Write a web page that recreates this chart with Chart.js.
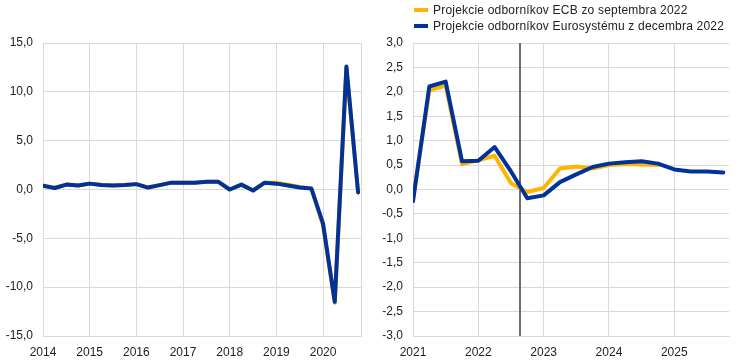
<!DOCTYPE html>
<html>
<head>
<meta charset="utf-8">
<script src="https://cdn.jsdelivr.net/npm/chart.js@4/dist/chart.umd.min.js"></script>
<style>
  body { margin: 0; background: #fff; font-family: "Liberation Sans", Arial, sans-serif; }
  #wrap { position: relative; width: 738px; height: 364px; }
  .panel { position: absolute; top: 0; height: 364px; }
  #leftPanel { left: 0; width: 370px; }
  #rightPanel { left: 370px; width: 368px; }
  .legend { position: absolute; left: 44px; top: 2px; font-size: 12px; letter-spacing: 0.2px; color: #222; }
  .legend div { height: 16px; line-height: 16px; white-space: nowrap; }
  .legend span { display: inline-block; width: 14px; height: 4px; margin-right: 5px; vertical-align: middle; position: relative; top: -1px; }
</style>
</head>
<body>
<div id="wrap">
  <div class="panel" id="leftPanel"><canvas id="leftChart" width="370" height="364"></canvas></div>
  <div class="panel" id="rightPanel">
    <canvas id="rightChart" width="368" height="364"></canvas>
    <div class="legend">
      <div><span style="background:#ffb400"></span>Projekcie odborníkov ECB zo septembra 2022</div>
      <div><span style="background:#003299"></span>Projekcie odborníkov Eurosystému z decembra 2022</div>
    </div>
  </div>
</div>
<script>
// quarterly categories
const histYears = [2014, 2015, 2016, 2017, 2018, 2019, 2020];
const projYears = [2021, 2022, 2023, 2024, 2025];

// history panel (2014Q1 - 2020Q4)
const histSep = [0.4, 0.15, 0.5, 0.4, 0.6, 0.45, 0.4, 0.45, 0.55, 0.2, 0.45, 0.7,
                 0.7, 0.7, 0.8, 0.8, 0.0, 0.5, -0.1, 0.7, 0.7, 0.5, 0.25, 0.1,
                 -3.7, -11.6, 12.4, -0.3];
const histDec = [0.4, 0.15, 0.5, 0.4, 0.6, 0.45, 0.4, 0.45, 0.55, 0.2, 0.45, 0.7,
                 0.7, 0.7, 0.8, 0.8, 0.0, 0.5, -0.1, 0.7, 0.6, 0.4, 0.2, 0.1,
                 -3.5, -11.5, 12.6, -0.3];

// projection panel (2021Q1 - 2025Q4)
const projSep = [-0.2, 2.03, 2.13, 0.52, 0.6, 0.69, 0.13, -0.05, 0.03, 0.43, 0.47, 0.43,
                 0.5, 0.52, 0.51, 0.5, null, null, null, null];
const projDec = [-0.24, 2.11, 2.21, 0.58, 0.59, 0.87, 0.37, -0.18, -0.12, 0.15, 0.31, 0.46,
                 0.53, 0.56, 0.58, 0.53, 0.41, 0.37, 0.37, 0.35];

const cutoffIndex = 6.55;  // vertical line between 2022Q3 and 2022Q4

function quarterLabels(years) {
  const out = [];
  years.forEach(y => { for (let q = 1; q <= 4; q++) out.push(y + 'Q' + q); });
  return out;
}
function toPoints(values) {
  return values.map((v, i) => ({ x: i, y: v }));
}

const gridGrey = '#d9d9d9';
const font = { family: '"Liberation Sans", Arial, sans-serif', size: 12 };

function makeChart(id, labels, sep, dec, yMin, yMax, yStep, xMax, rightPad, edgeLine, cutoff) {
  const cutoffPlugin = {
    id: 'cutoff',
    beforeDatasetsDraw(chart) {
      if (cutoff == null) return;
      const c = chart.ctx, a = chart.chartArea;
      const x = Math.round(chart.scales.x.getPixelForValue(cutoff));
      c.save();
      c.strokeStyle = '#6e6e6e';
      c.lineWidth = 2;
      c.beginPath();
      c.moveTo(x, a.top);
      c.lineTo(x, a.bottom);
      c.stroke();
      c.restore();
    }
  };
  return new Chart(document.getElementById(id).getContext('2d'), {
    type: 'line',
    data: {
      datasets: [
        { label: 'Projekcie odborníkov ECB zo septembra 2022', data: toPoints(sep),
          borderColor: '#ffb400', borderWidth: 4, pointRadius: 0, order: 2 },
        { label: 'Projekcie odborníkov Eurosystému z decembra 2022', data: toPoints(dec),
          borderColor: '#003299', borderWidth: 4, pointRadius: 0, order: 1 }
      ]
    },
    options: {
      responsive: false,
      animation: false,
      layout: { padding: { top: 43, bottom: 0, left: 0, right: rightPad } },
      plugins: { legend: { display: false }, tooltip: { enabled: false } },
      elements: { line: { tension: 0, borderCapStyle: 'round', borderJoinStyle: 'round' } },
      scales: {
        x: {
          type: 'linear',
          min: 0,
          max: xMax,
          afterFit: s => { s.height = 28; },
          afterBuildTicks: s => {
            // one tick per year (first quarter), plus the right edge
            const t = [];
            labels.forEach((l, i) => { if (i % 4 === 0) t.push({ value: i }); });
            t.push({ value: xMax });
            s.ticks = t;
          },
          grid: {
            drawTicks: false,
            color: ctx => {
              const v = ctx.tick ? ctx.tick.value : 0;
              if (Number.isInteger(v) && v % 4 === 0) return gridGrey;
              return edgeLine ? gridGrey : 'rgba(0,0,0,0)';
            }
          },
          border: { color: gridGrey },
          ticks: {
            autoSkip: false,
            maxRotation: 0,
            padding: 9,
            color: '#222',
            font: font,
            callback: v => (Number.isInteger(v) && v % 4 === 0 && labels[v]) ? labels[v].slice(0, 4) : ''
          }
        },
        y: {
          min: yMin,
          max: yMax,
          afterFit: s => { s.width = 43; },
          grid: { drawTicks: false, color: gridGrey },
          border: { color: gridGrey },
          ticks: {
            stepSize: yStep,
            padding: 10,
            color: '#222',
            font: font,
            callback: v => v.toFixed(1).replace('.', ',')
          }
        }
      }
    },
    plugins: [cutoffPlugin]
  });
}

makeChart('leftChart', quarterLabels(histYears), histSep, histDec, -15, 15, 5, 27.25, 1, true, null);
makeChart('rightChart', quarterLabels(projYears), projSep, projDec, -3, 3, 0.5, 19.35, 7, false, cutoffIndex);
</script>
</body>
</html>
